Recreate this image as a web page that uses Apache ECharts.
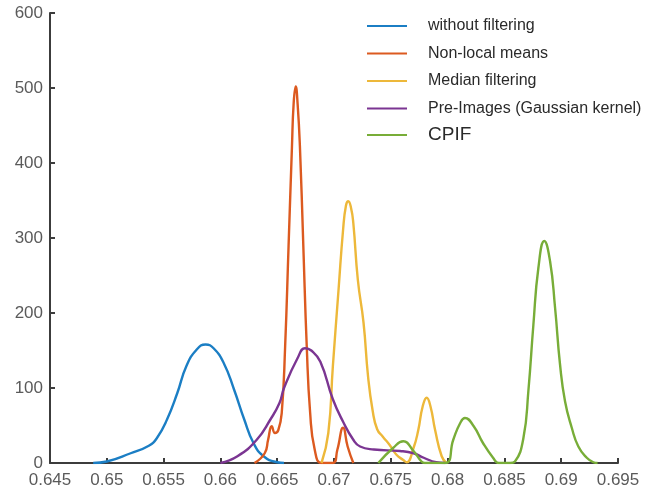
<!DOCTYPE html>
<html>
<head>
<meta charset="utf-8">
<script src="https://cdn.jsdelivr.net/npm/echarts@6/dist/echarts.min.js"></script>
<style>
html,body{margin:0;padding:0;background:#fff;}
#chart{width:651px;height:494px;}
</style>
</head>
<body>
<div id="chart"></div>
<script>
// ---- data ----
const seriesNames = ['without filtering', 'Non-local means', 'Median filtering', 'Pre-Images (Gaussian kernel)', 'CPIF'];
const seriesColors = ['#1b7ec4', '#dc5a20', '#edb83a', '#7b3592', '#78ad38'];

const blueX = [0.6488, 0.6500, 0.6521, 0.6537, 0.6544, 0.6553, 0.6562, 0.6570, 0.6579, 0.6587, 0.6594, 0.6603, 0.6612, 0.6621, 0.6629, 0.6638, 0.6650, 0.6656];
const blueY = [0, 2, 13, 23, 33, 58, 93, 129, 151, 158, 153, 133, 98, 58, 27, 9, 1, 0];

const orangeX = [0.6630, 0.6639, 0.6642, 0.66452, 0.6648, 0.6651, 0.6654, 0.6657, 0.6660, 0.6663, 0.66645, 0.66663, 0.6668, 0.6670, 0.6673, 0.6676, 0.6679, 0.6683, 0.6689, 0.6699, 0.6703, 0.6708, 0.6712, 0.6717];
const orangeY = [0, 13, 31, 49, 40, 44, 67, 156, 289, 422, 480, 502, 478, 422, 289, 156, 67, 18, 0, 0, 18, 47, 22, 0];

const yellowX = [0.6689, 0.6695, 0.6699, 0.6704, 0.6708, 0.67105, 0.67126, 0.6715, 0.6717, 0.6721, 0.6726, 0.6730, 0.6734, 0.6738, 0.6743, 0.6749, 0.6755, 0.6761, 0.6764, 0.6770, 0.67742, 0.6778, 0.67816, 0.6785, 0.6789, 0.67948, 0.6799];
const yellowY = [0, 40, 129, 231, 311, 343, 349, 340, 320, 244, 187, 115, 70, 45, 35, 24, 11, 4, 1, 20, 44, 75, 87, 75, 44, 9, 0];

const purpleX = [0.6600, 0.6615, 0.6632, 0.6644, 0.6652, 0.6656, 0.6668, 0.66745, 0.6680, 0.6688, 0.6699, 0.6708, 0.6717, 0.6723, 0.6735, 0.6758, 0.6770, 0.6779, 0.6790, 0.6798];
const purpleY = [0, 9, 31, 58, 80, 100, 140, 153, 150, 135, 85, 55, 31, 22, 18, 16, 13, 7, 1, 0];

const greenX = [0.6739, 0.6752, 0.6761, 0.6770, 0.6777, 0.6780, 0.6798, 0.6805, 0.6811, 0.68153, 0.6823, 0.6831, 0.6840, 0.6845, 0.6855, 0.68593, 0.68667, 0.68711, 0.68755, 0.68799, 0.68851, 0.68902, 0.68946, 0.68990, 0.69034, 0.69093, 0.69151, 0.69225, 0.69283, 0.6932];
const greenY = [0, 20, 29, 16, 2, 0, 0, 31, 53, 60, 49, 27, 7, 0, 0, 2, 33, 96, 184, 260, 296, 269, 207, 131, 82, 47, 22, 7, 1, 0];

const xMin = 0.645, xMax = 0.695, xStep = 0.005;
const yMin = 0, yMax = 600, yStep = 100;

// legend row centres (px) and font sizes
const legendRowCenter = [26, 53.5, 81, 108.5, 135];
const legendFont = [16, 16, 16, 16, 19];

const xs = [blueX, orangeX, yellowX, purpleX, greenX];
const ys = [blueY, orangeY, yellowY, purpleY, greenY];

function zip(a, b) { return a.map((v, i) => [v, b[i]]); }

const FONT = '"Liberation Sans", Arial, sans-serif';

const series = seriesNames.map((name, i) => ({
  name: name,
  type: 'line',
  data: zip(xs[i], ys[i]),
  smooth: 0.5,
  symbol: 'none',
  lineStyle: { width: 2.4, color: seriesColors[i] },
  itemStyle: { color: seriesColors[i] },
  z: 2 + i
}));

const legends = seriesNames.map((name, i) => ({
  data: [name],
  left: 367,
  top: legendRowCenter[i] - legendFont[i] / 2,
  orient: 'vertical',
  icon: 'rect',
  itemWidth: 40,
  itemHeight: 2,
  padding: 0,
  selectedMode: false,
  textStyle: {
    fontFamily: FONT,
    fontSize: legendFont[i],
    color: '#2a2a2a',
    padding: [0, 0, 0, 16],
    lineHeight: legendFont[i]
  }
}));

const chart = echarts.init(document.getElementById('chart'), null, { renderer: 'canvas' });
chart.setOption({
  animation: false,
  backgroundColor: '#ffffff',
  grid: { left: 50, right: 33, top: 13, bottom: 31 },
  legend: legends,
  xAxis: {
    type: 'value',
    min: xMin, max: xMax, interval: xStep,
    splitLine: { show: false },
    axisLine: { show: true, onZero: false, lineStyle: { color: '#3c3c3c', width: 2 } },
    axisTick: { show: true, inside: true, length: 5, lineStyle: { color: '#3c3c3c', width: 2 } },
    axisLabel: {
      margin: 9, fontSize: 17, color: '#5a5a5a', fontFamily: FONT,
      formatter: v => parseFloat(v.toFixed(3)).toString()
    }
  },
  yAxis: {
    type: 'value',
    min: yMin, max: yMax, interval: yStep,
    splitLine: { show: false },
    axisLine: { show: true, lineStyle: { color: '#3c3c3c', width: 2 } },
    axisTick: { show: true, inside: true, length: 5, lineStyle: { color: '#3c3c3c', width: 2 } },
    axisLabel: { margin: 7, fontSize: 17, color: '#5a5a5a', fontFamily: FONT }
  },
  series: series
});
</script>
</body>
</html>
